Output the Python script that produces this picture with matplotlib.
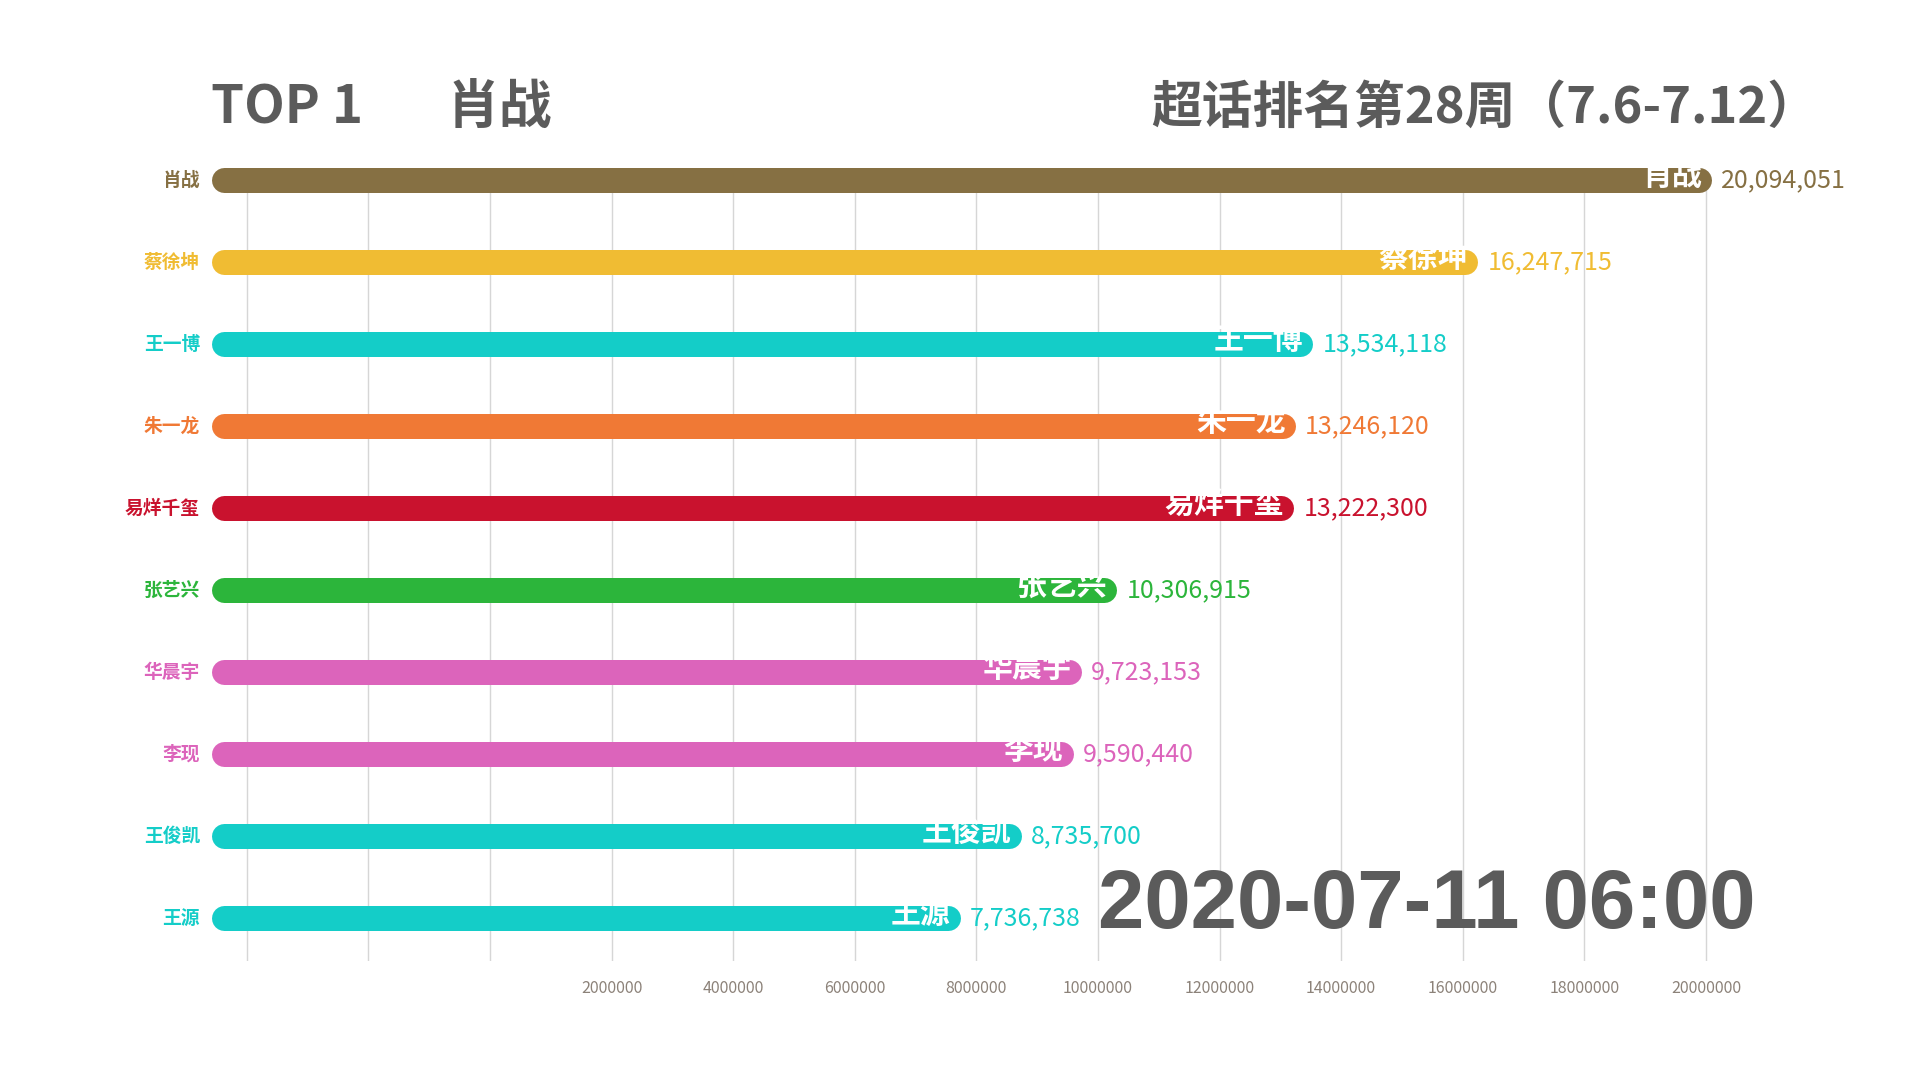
import matplotlib
matplotlib.use("Agg")
import matplotlib.pyplot as plt

plt.rcParams['font.family'] = ['Noto Sans CJK SC', 'DejaVu Sans']

# weekly super-topic ranking snapshot
names = ["肖战", "蔡徐坤", "王一博", "朱一龙", "易烊千玺", "张艺兴", "华晨宇", "李现", "王俊凯", "王源"]
values = [20094051, 16247715, 13534118, 13246120, 13222300, 10306915, 9723153, 9590440, 8735700, 7736738]
colors = ["#867043", "#f0bc33", "#14cdc8", "#f07935", "#c9122e", "#2cb53b",
          "#dc64bb", "#dc64bb", "#14cdc8", "#14cdc8"]
tick_values = [-4000000, -2000000, 0, 2000000, 4000000, 6000000, 8000000, 10000000,
               12000000, 14000000, 16000000, 18000000, 20000000]
title_left = "TOP 1"
title_right = "超话排名第28周（7.6-7.12）"
timestamp = "2020-07-11 06:00"

W, H = 1920, 1080
fig = plt.figure(figsize=(W / 100, H / 100), dpi=100)
fig.patch.set_facecolor("white")

# axes box in pixels: left at bar start, top at first bar centre
ax_left, ax_right, ax_top, ax_bottom = 211, 1850, 180, 961
ax = fig.add_axes([ax_left / W, 1 - ax_bottom / H, (ax_right - ax_left) / W, (ax_bottom - ax_top) / H])
xmin, xmax = -4590000, 22370000
ax.set_xlim(xmin, xmax)
ax.set_ylim(9.52, 0)

for s in ax.spines.values():
    s.set_visible(False)
ax.set_yticks([])
ax.set_xticks(tick_values)
ax.set_xticklabels([f"{v}" if v > 0 else "" for v in tick_values])
ax.tick_params(axis="x", length=0, pad=14, labelsize=11.5, labelcolor="#8c8279")
ax.grid(axis="x", color="#d6d6d6", linewidth=1.0)
ax.set_axisbelow(True)

# round-capped bars: shrink the line by the cap radius so the ends sit right
bar_px = 25
r_data = (bar_px / 2) * (xmax - xmin) / (ax_right - ax_left)
for i, (name, val, col) in enumerate(zip(names, values, colors)):
    ax.plot([xmin + r_data, val - r_data], [i, i], color=col, linewidth=bar_px * 72 / 100,
            solid_capstyle="round", clip_on=False, zorder=3)
    ax.annotate(name, (xmin, i), xytext=(-8, 0), textcoords="offset points",
                ha="right", va="center", fontsize=13.5, fontweight="bold", color=col,
                annotation_clip=False)
    ax.annotate(name, (val, i), xytext=(-7, 3), textcoords="offset points",
                ha="right", va="center", fontsize=21.5, fontweight="bold", color="white",
                zorder=4, annotation_clip=False)
    ax.annotate(f"{val:,}", (val, i), xytext=(7, 0), textcoords="offset points",
                ha="left", va="center", fontsize=18, color=col, annotation_clip=False)

grey = "#5b5b5b"
fig.text(211 / W, 1 - 108 / H, title_left, ha="left", va="center", fontsize=38,
         fontweight="bold", color=grey)
fig.text(447 / W, 1 - 108 / H, names[0], ha="left", va="center", fontsize=38,
         fontweight="bold", color=grey)
fig.text(1818 / W, 1 - 108 / H, title_right, ha="right", va="center", fontsize=36.5,
         fontweight="bold", color=grey)
fig.text(1756 / W, 1 - 906 / H, timestamp, ha="right", va="center", fontsize=60,
         fontweight="bold", color=grey, family=["Liberation Sans", "DejaVu Sans"])

fig.savefig("out.png", dpi=100, facecolor="white")
